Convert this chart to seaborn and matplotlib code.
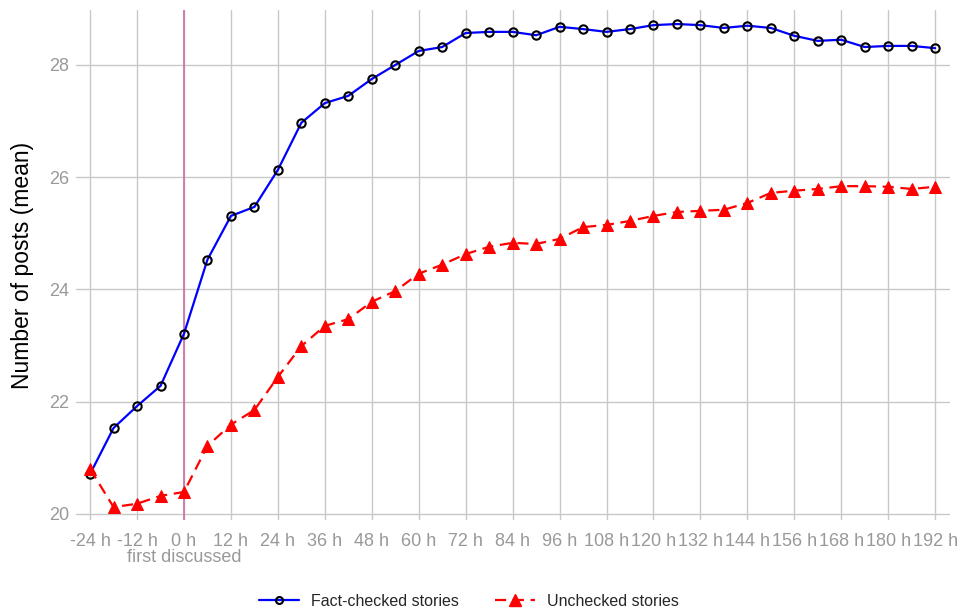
import matplotlib
matplotlib.use("Agg")
import matplotlib.pyplot as plt
import seaborn as sns
import pandas as pd
from matplotlib.lines import Line2D

hours = list(range(-24, 193, 6))

fact_checked = [20.71, 21.53, 21.92, 22.28, 23.21, 24.53, 25.31, 25.47, 26.13, 26.97,
                27.32, 27.45, 27.75, 28.00, 28.25, 28.32, 28.57, 28.59, 28.59, 28.53,
                28.68, 28.64, 28.59, 28.64, 28.71, 28.73, 28.71, 28.66, 28.70, 28.66,
                28.52, 28.43, 28.45, 28.32, 28.34, 28.34, 28.30]

unchecked = [20.80, 20.12, 20.18, 20.32, 20.39, 21.21, 21.59, 21.85, 22.44, 22.99,
             23.35, 23.47, 23.78, 23.97, 24.28, 24.44, 24.63, 24.76, 24.83, 24.81,
             24.90, 25.11, 25.15, 25.22, 25.31, 25.38, 25.40, 25.42, 25.54, 25.72,
             25.76, 25.79, 25.84, 25.84, 25.83, 25.79, 25.83]

x_ticks = list(range(-24, 193, 12))
x_tick_labels = [f"{h} h" for h in x_ticks]
y_ticks = [20, 22, 24, 26, 28]

df = pd.DataFrame({"hours": hours, "fact": fact_checked, "unchecked": unchecked})

sns.set_theme(style="whitegrid")
plt.rcParams["font.family"] = ["Liberation Sans", "DejaVu Sans"]

fig = plt.figure(figsize=(9.59, 6.12), dpi=100)
ax = fig.add_axes([76 / 959, (612 - 520) / 612, (950 - 76) / 959, (520 - 10) / 612])

grid_col = "#c8c8c8"
label_col = "#999999"
ax.axvline(0, color="#cc79a7", lw=1.3, zorder=1)

sns.lineplot(data=df, x="hours", y="fact", ax=ax, color="#0000ff", lw=1.6,
             marker="o", markersize=6, markerfacecolor="none",
             markeredgecolor="black", markeredgewidth=1.5, zorder=3)
sns.lineplot(data=df, x="hours", y="unchecked", ax=ax, color="#ff0000", lw=1.6,
             linestyle=(0, (5, 3)), marker="^", markersize=8,
             markerfacecolor="#ff0000", markeredgecolor="#ff0000", zorder=3)

ax.set_xlim(-27.6, 195.8)
ax.set_ylim(19.89, 28.98)
ax.set_xticks(x_ticks)
ax.set_xticklabels(x_tick_labels)
ax.set_yticks(y_ticks)
ax.grid(True, color=grid_col, lw=1.0)
ax.set_axisbelow(True)
for s in ax.spines.values():
    s.set_visible(False)
ax.tick_params(axis="both", colors=grid_col, labelcolor=label_col, labelsize=13,
               length=5, width=1.0)
ax.tick_params(axis="x", pad=4)
ax.tick_params(axis="y", pad=0)
ax.set_xlabel("")
ax.set_ylabel("Number of posts (mean)", fontsize=16.5, color="black", labelpad=11)

ax.text(0, -0.0824, "first discussed", transform=ax.get_xaxis_transform(),
        ha="center", va="baseline", fontsize=13, color=label_col)

handles = [
    Line2D([], [], color="#0000ff", lw=1.6, marker="o", markersize=5,
           markerfacecolor="none", markeredgecolor="black", markeredgewidth=1.5),
    Line2D([], [], color="#ff0000", lw=1.6, linestyle=(0, (5, 3)), marker="^",
           markersize=8, markerfacecolor="#ff0000", markeredgecolor="#ff0000"),
]
fig.legend(handles, ["Fact-checked stories", "Unchecked stories"],
           loc="center", bbox_to_anchor=(0.489, 1 - 601 / 612), ncol=2,
           frameon=False, fontsize=11.5, handlelength=2.5, handletextpad=0.75,
           columnspacing=2.3)

fig.savefig("out.png", dpi=100)
